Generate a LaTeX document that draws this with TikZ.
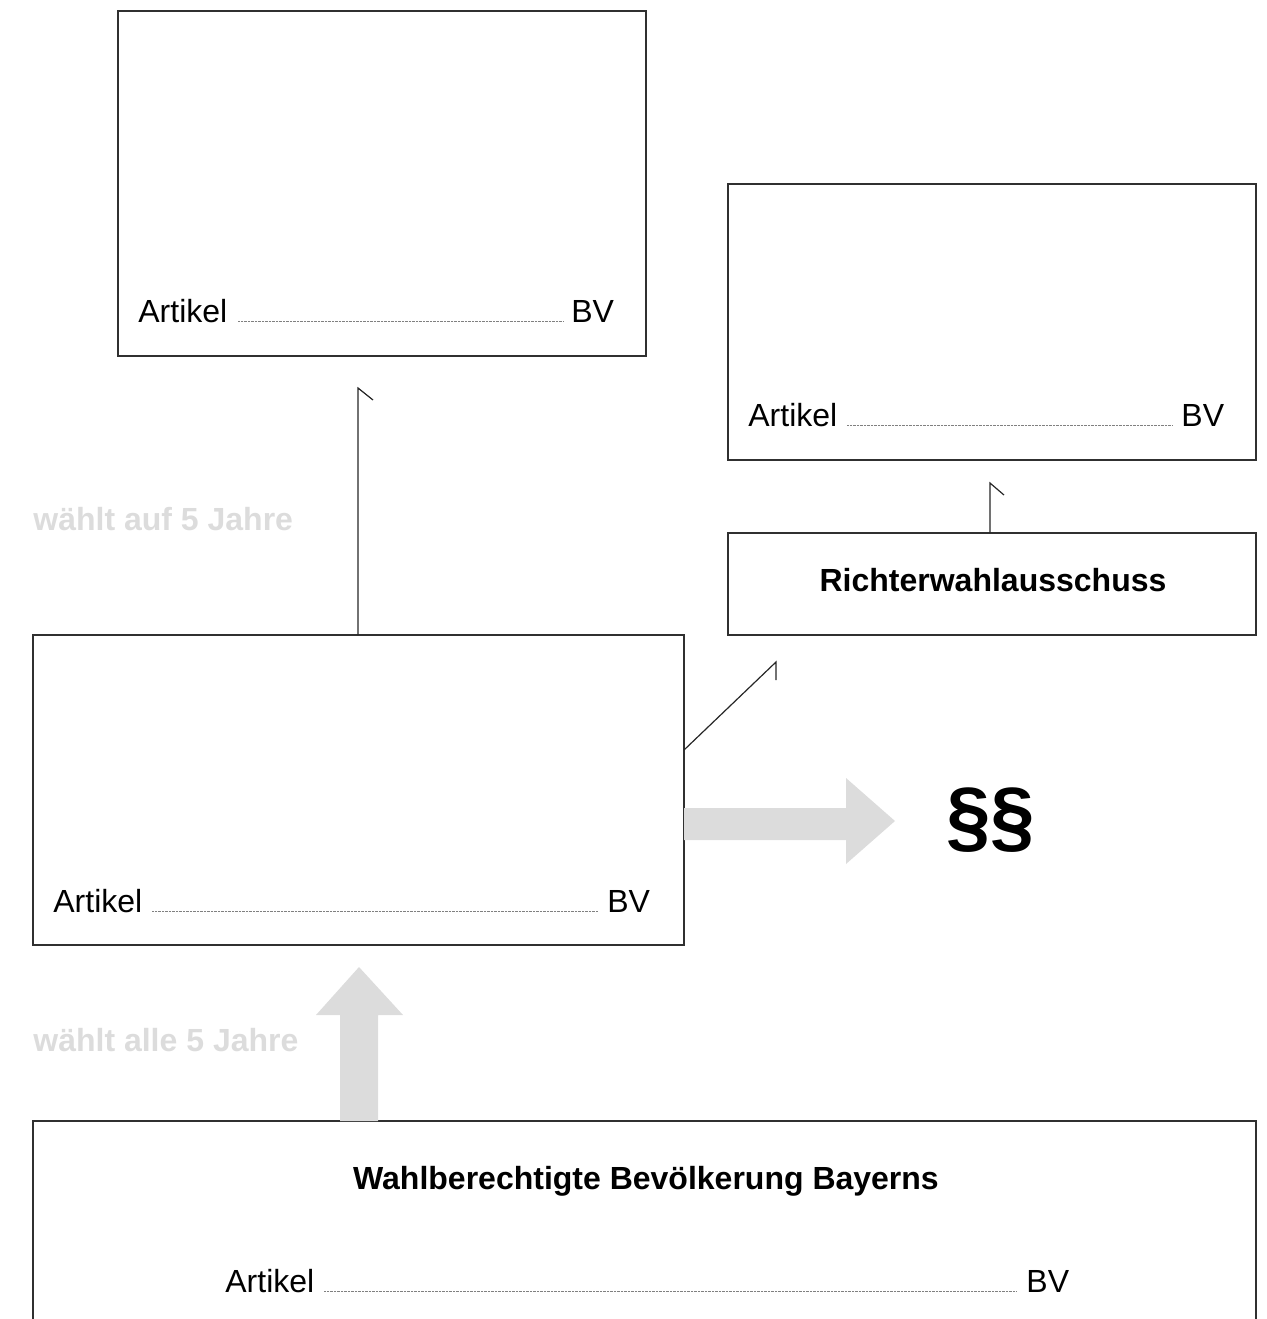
\documentclass[tikz,border=0pt]{standalone}
\usepackage{fontspec}
\setmainfont{Liberation Sans}
\definecolor{lightgrey}{HTML}{DCDCDC}
\definecolor{framegrey}{HTML}{303030}
\begin{document}
\begin{tikzpicture}[x=0.5pt,y=-0.5pt,
  box/.style={draw=framegrey,line width=0.7pt,rectangle,inner sep=0pt,outer sep=0pt,anchor=north west},
  lbl/.style={font=\fontsize{16}{19}\selectfont,inner sep=0pt},
  blbl/.style={font=\fontsize{16}{19}\selectfont\bfseries,inner sep=0pt},
  greylbl/.style={font=\fontsize{16}{19}\selectfont\bfseries,text=lightgrey,inner sep=0pt,anchor=base west},
  fillline/.style={draw=gray,line width=0.5pt,dash pattern=on 0.35pt off 0.35pt},
  conn/.style={draw=black!85,line width=0.6pt},
  bigarrow/.style={fill=lightgrey,draw=none}]
\useasboundingbox (0,0) rectangle (1266,1319);
\begin{scope}
\clip (0,0) rectangle (1266,1319);

% boxes
\node[box,minimum width=264pt,minimum height=172.5pt] (mp) at (118,11) {};
\node[box,minimum width=264pt,minimum height=138pt] (vgh) at (728,184) {};
\node[box,minimum width=264pt,minimum height=51pt] (rwa) at (728,533) {};
\node[box,minimum width=325.5pt,minimum height=155pt] (lt) at (33,635) {};
\node[box,minimum width=611.5pt,minimum height=120pt] (bev) at (33,1121) {};

% "Artikel ..... BV" lines
\node[lbl,anchor=base west] (mpA) at (138,322) {Artikel};
\node[lbl,anchor=base west] (mpB) at (571,322) {BV};
\draw[fillline] (238,321) -- (563,321);

\node[lbl,anchor=base west] (vghA) at (748,426) {Artikel};
\node[lbl,anchor=base west] (vghB) at (1181,426) {BV};
\draw[fillline] (847,425) -- (1173,425);

\node[lbl,anchor=base west] (ltA) at (53,912) {Artikel};
\node[lbl,anchor=base west] (ltB) at (607,912) {BV};
\draw[fillline] (152,911) -- (598,911);

\node[lbl,anchor=base west] (bevA) at (225,1292) {Artikel};
\node[lbl,anchor=base west] (bevB) at (1026,1292) {BV};
\draw[fillline] (324,1291) -- (1017,1291);

% titles
\node[blbl,anchor=base] (rwaT) at (993,591) {Richterwahlausschuss};
\node[blbl,anchor=base] (bevT) at (646,1189) {Wahlberechtigte Bevölkerung Bayerns};

% grey labels
\node[greylbl] (g1) at (33,530) {wählt auf 5 Jahre};
\node[greylbl] (g2) at (33,1051) {wählt alle 5 Jahre};

% paragraph signs
\node[inner sep=0pt,anchor=base,font=\fontsize{40}{44}\selectfont\bfseries] (par) at (991,843) {§§};

% broad grey arrows
\path[bigarrow] (lt.east |- 0,808) -- (846,808) -- (846,778) -- (895,821) -- (846,864) -- (846,840) -- (lt.east |- 0,840) -- cycle;
\path[bigarrow] (bev.north -| 340,0) -- (340,1015) -- (316,1015) -- (359,967) -- (403,1015) -- (378,1015) -- (bev.north -| 378,0) -- cycle;

% connectors with half arrowheads
\coordinate (t1) at (358,388);
\draw[conn] (lt.north -| t1) -- (t1) -- ++(15,12);
\coordinate (t2) at (990,483);
\draw[conn] (rwa.north -| t2) -- (t2) -- ++(14,12);
\coordinate (t3) at (776,662);
\draw[conn] (lt.east |- 0,750) -- (t3) -- ++(0,18);
\end{scope}
\end{tikzpicture}
\end{document}
